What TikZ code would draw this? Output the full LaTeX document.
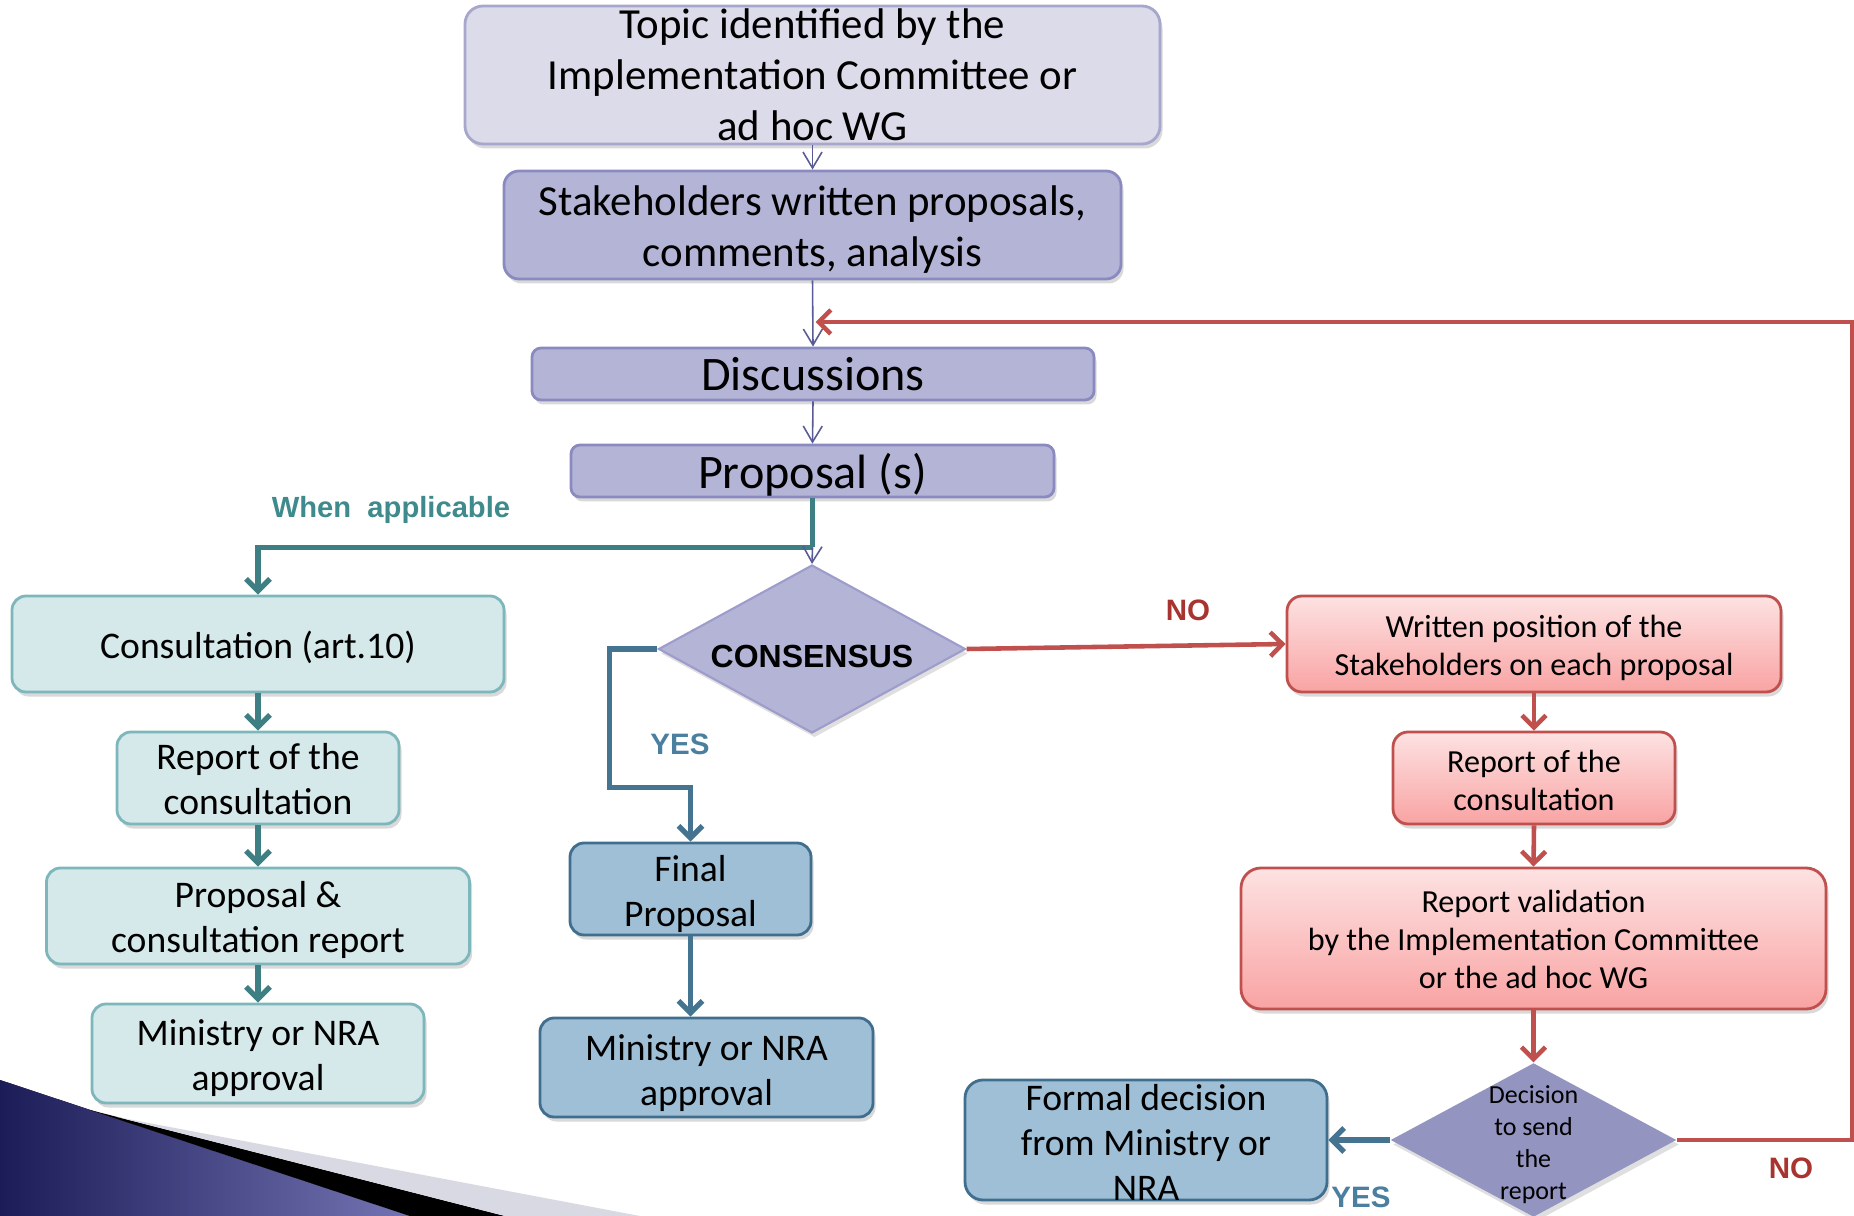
\documentclass[tikz,border=0pt]{standalone}
\usepackage{fontspec}
\setmainfont{Carlito}
\newfontfamily\arialf{Liberation Sans}
\usetikzlibrary{arrows.meta,shapes.geometric,shadows,calc}
\definecolor{topfill}{HTML}{DCDBEA}
\definecolor{topborder}{HTML}{A7A6CD}
\definecolor{purpfill}{HTML}{B4B4D7}
\definecolor{purpborder}{HTML}{8B8AC0}
\definecolor{parrowc}{HTML}{5A5A96}
\definecolor{tealfill}{HTML}{D5E8EA}
\definecolor{tealborder}{HTML}{7DB7BC}
\definecolor{tarrowc}{HTML}{3E7F84}
\definecolor{teallab}{HTML}{3F8A8C}
\definecolor{bluefill}{HTML}{9FBFD6}
\definecolor{blueborder}{HTML}{3F6E8F}
\definecolor{barrowc}{HTML}{44748F}
\definecolor{bluelab}{HTML}{4A7FA0}
\definecolor{redtop}{HTML}{FDE2E2}
\definecolor{redbot}{HTML}{F9A3A3}
\definecolor{redborder}{HTML}{C0504D}
\definecolor{rarrowc}{HTML}{C0504D}
\definecolor{redlab}{HTML}{A8332F}
\definecolor{decfill}{HTML}{9494C0}
\definecolor{consborder}{HTML}{9D9CCB}
\definecolor{navyL}{HTML}{1C1C58}
\definecolor{navyR}{HTML}{7474B4}
\definecolor{greyband}{HTML}{D9D9E3}
% text node placed in box #1, style #2, lowered by #3
\newcommand{\btext}[4]{\node[inner sep=0pt, align=center, #2] (#1-t) at ([yshift=-#3]#1.center) {#4};}
\tikzset{
  box/.style={rectangle, rounded corners=0.15cm, inner sep=0pt, line width=0.8pt,
    drop shadow={shadow xshift=0.025cm, shadow yshift=-0.045cm, opacity=0.3}},
  lavbox/.style={box, fill=topfill, draw=topborder, rounded corners=0.18cm},
  purpbox/.style={box, fill=purpfill, draw=purpborder},
  tealbox/.style={box, fill=tealfill, draw=tealborder, rounded corners=0.14cm},
  bluebox/.style={box, fill=bluefill, draw=blueborder, rounded corners=0.14cm},
  redbox/.style={box, top color=redtop, bottom color=redbot, draw=redborder},
  fbig/.style={font=\fontsize{12.2pt}{14.5pt}\selectfont},
  fhuge/.style={font=\fontsize{13.7pt}{16pt}\selectfont},
  fmid/.style={font=\fontsize{10.7pt}{12.8pt}\selectfont},
  fred/.style={font=\fontsize{9.15pt}{10.8pt}\selectfont},
  fdec/.style={font=\fontsize{7.4pt}{9.1pt}\selectfont},
  fcons/.style={font=\arialf\bfseries\fontsize{9.1pt}{11pt}\selectfont},
  lab/.style={font=\arialf\bfseries\fontsize{8.4pt}{10pt}\selectfont, inner sep=0pt},
  parr/.style={draw=parrowc, line width=0.45pt, -{Straight Barb[length=0.16cm,width=0.19cm]}},
  tarr/.style={draw=tarrowc, line width=1.5pt, -{Straight Barb[length=0.12cm,width=0.24cm]}},
  barr/.style={draw=barrowc, line width=1.5pt, -{Straight Barb[length=0.12cm,width=0.24cm]}},
  rarr/.style={draw=rarrowc, line width=1.3pt, -{Straight Barb[length=0.12cm,width=0.24cm]}},
}
\begin{document}
\begin{tikzpicture}[x=1cm,y=-1cm]
\useasboundingbox (0,0) rectangle (18.54,12.16);
% decoration bottom-left
\fill[left color=navyL, right color=navyR] (0,10.80) -- (4.10,12.16) -- (0,12.16) -- cycle;
\fill[black] (0.90,11.10) -- (5.05,12.16) -- (4.10,12.16) -- cycle;
\fill[greyband] (1.17,11.17) -- (6.40,12.16) -- (5.05,12.16) -- cycle;

% central column
\node[lavbox, minimum width=6.95cm, minimum height=1.38cm] (topic) at (8.125,0.75) {};
\btext{topic}{fbig}{0cm}{Topic identified by the\\Implementation Committee or\\ad hoc WG}
\node[purpbox, minimum width=6.17cm, minimum height=1.08cm] (stak) at (8.125,2.25) {};
\btext{stak}{fbig}{0.047cm}{Stakeholders written proposals,\\comments, analysis}
\node[purpbox, rounded corners=0.09cm, minimum width=5.62cm, minimum height=0.52cm] (disc) at (8.13,3.74) {};
\btext{disc}{fhuge}{0cm}{Discussions}
\node[purpbox, rounded corners=0.09cm, minimum width=4.83cm, minimum height=0.52cm] (prop) at (8.125,4.71) {};
\btext{prop}{fhuge}{0.035cm}{Proposal (s)}
\node[diamond, fill=purpfill, draw=consborder, line width=0.6pt, inner sep=0pt,
  minimum width=3.07cm, minimum height=1.68cm,
  drop shadow={shadow xshift=0.025cm, shadow yshift=-0.045cm, opacity=0.25}] (cons) at (8.12,6.49) {};
\btext{cons}{fcons}{0.07cm}{CONSENSUS}

% left column
\node[tealbox, minimum width=4.92cm, minimum height=0.96cm] (consult) at (2.58,6.44) {};
\btext{consult}{fmid}{0.035cm}{Consultation (art.10)}
\node[tealbox, minimum width=2.82cm, minimum height=0.92cm] (trep) at (2.58,7.78) {};
\btext{trep}{fmid}{0.012cm}{Report of the\\consultation}
\node[tealbox, minimum width=4.23cm, minimum height=0.96cm] (tprop) at (2.58,9.16) {};
\btext{tprop}{fmid}{0.04cm}{Proposal \&\\consultation report}
\node[tealbox, minimum width=3.32cm, minimum height=0.99cm] (tmin) at (2.58,10.535) {};
\btext{tmin}{fmid}{0.047cm}{Ministry or NRA\\approval}

% middle lower
\node[bluebox, minimum width=2.41cm, minimum height=0.92cm] (final) at (6.905,8.89) {};
\btext{final}{fmid}{0.047cm}{Final\\Proposal}
\node[bluebox, minimum width=3.33cm, minimum height=0.99cm] (bmin) at (7.065,10.675) {};
\btext{bmin}{fmid}{0.055cm}{Ministry or NRA\\approval}

% right column
\node[redbox, minimum width=4.94cm, minimum height=0.96cm] (written) at (15.34,6.44) {};
\btext{written}{fred}{0.04cm}{Written position of the\\Stakeholders on each proposal}
\node[redbox, minimum width=2.82cm, minimum height=0.92cm] (rrep) at (15.34,7.78) {};
\btext{rrep}{fred}{0.02cm}{Report of the\\consultation}
\node[redbox, rounded corners=0.2cm, minimum width=5.85cm, minimum height=1.41cm] (valid) at (15.335,9.385) {};
\btext{valid}{fred}{0.012cm}{Report validation\\by the Implementation Committee\\or the ad hoc WG}
\node[diamond, fill=decfill, inner sep=0pt, minimum width=2.86cm, minimum height=1.54cm,
  drop shadow={shadow xshift=0.025cm, shadow yshift=-0.045cm, opacity=0.25}] (dec) at (15.335,11.40) {};
\btext{dec}{fdec}{0.047cm}{Decision\\to send\\the\\report}
\node[bluebox, rounded corners=0.18cm, minimum width=3.62cm, minimum height=1.20cm] (formal) at (11.46,11.40) {};
\btext{formal}{fmid}{0.024cm}{Formal decision\\from Ministry or\\NRA}

% labels
\node[lab, text=teallab, font=\arialf\bfseries\fontsize{8.3pt}{10pt}\selectfont] (lwhen) at (3.91,5.095) {When\ \ applicable};
\node[lab, text=redlab] (lno1) at (11.88,6.10) {NO};
\node[lab, text=bluelab] (lyes1) at (6.80,7.44) {YES};
\node[lab, text=bluelab] (lyes2) at (13.61,11.97) {YES};
\node[lab, text=redlab] (lno2) at (17.91,11.68) {NO};

% connectors: central
\draw[parr] (topic.south) -- (stak.north);
\draw[parr] (stak.south) -- (disc.north);
\draw[parr] (disc.south) -- (prop.north);
\coordinate (jt) at ($(prop.south)+(0,0.49)$);
\draw[tarr, -] (prop.south) -- (jt);
\draw[tarr] (jt) -| (consult.north);
\draw[parr] (jt) -- (cons.north);

% left column arrows
\draw[tarr] (consult.south) -- (trep.north);
\draw[tarr] (trep.south) -- (tprop.north);
\draw[tarr] (tprop.south) -- (tmin.north);

% yes branch
\coordinate (yb) at ($(final.north)+(0,-0.54)$);
\draw[barr] (cons.west) -- ++(-0.48,0) |- (yb) -- (final.north);
\draw[barr] (final.south) -- (final.south |- bmin.north);

% no branch
\draw[rarr] (cons.east) -- (written.west);
\draw[rarr] (written.south) -- (rrep.north);
\draw[rarr] (rrep.south) -- (valid.north);
\draw[rarr] (valid.south) -- (dec.north);
\draw[barr] (dec.west) -- (formal.east);
\coordinate (rc) at (18.52,3.22);
\coordinate (rj) at ($(stak.south |- rc)+(0.03,0)$);
\draw[rarr] (dec.east) -| (rc) -- (rj);
\end{tikzpicture}
\end{document}
